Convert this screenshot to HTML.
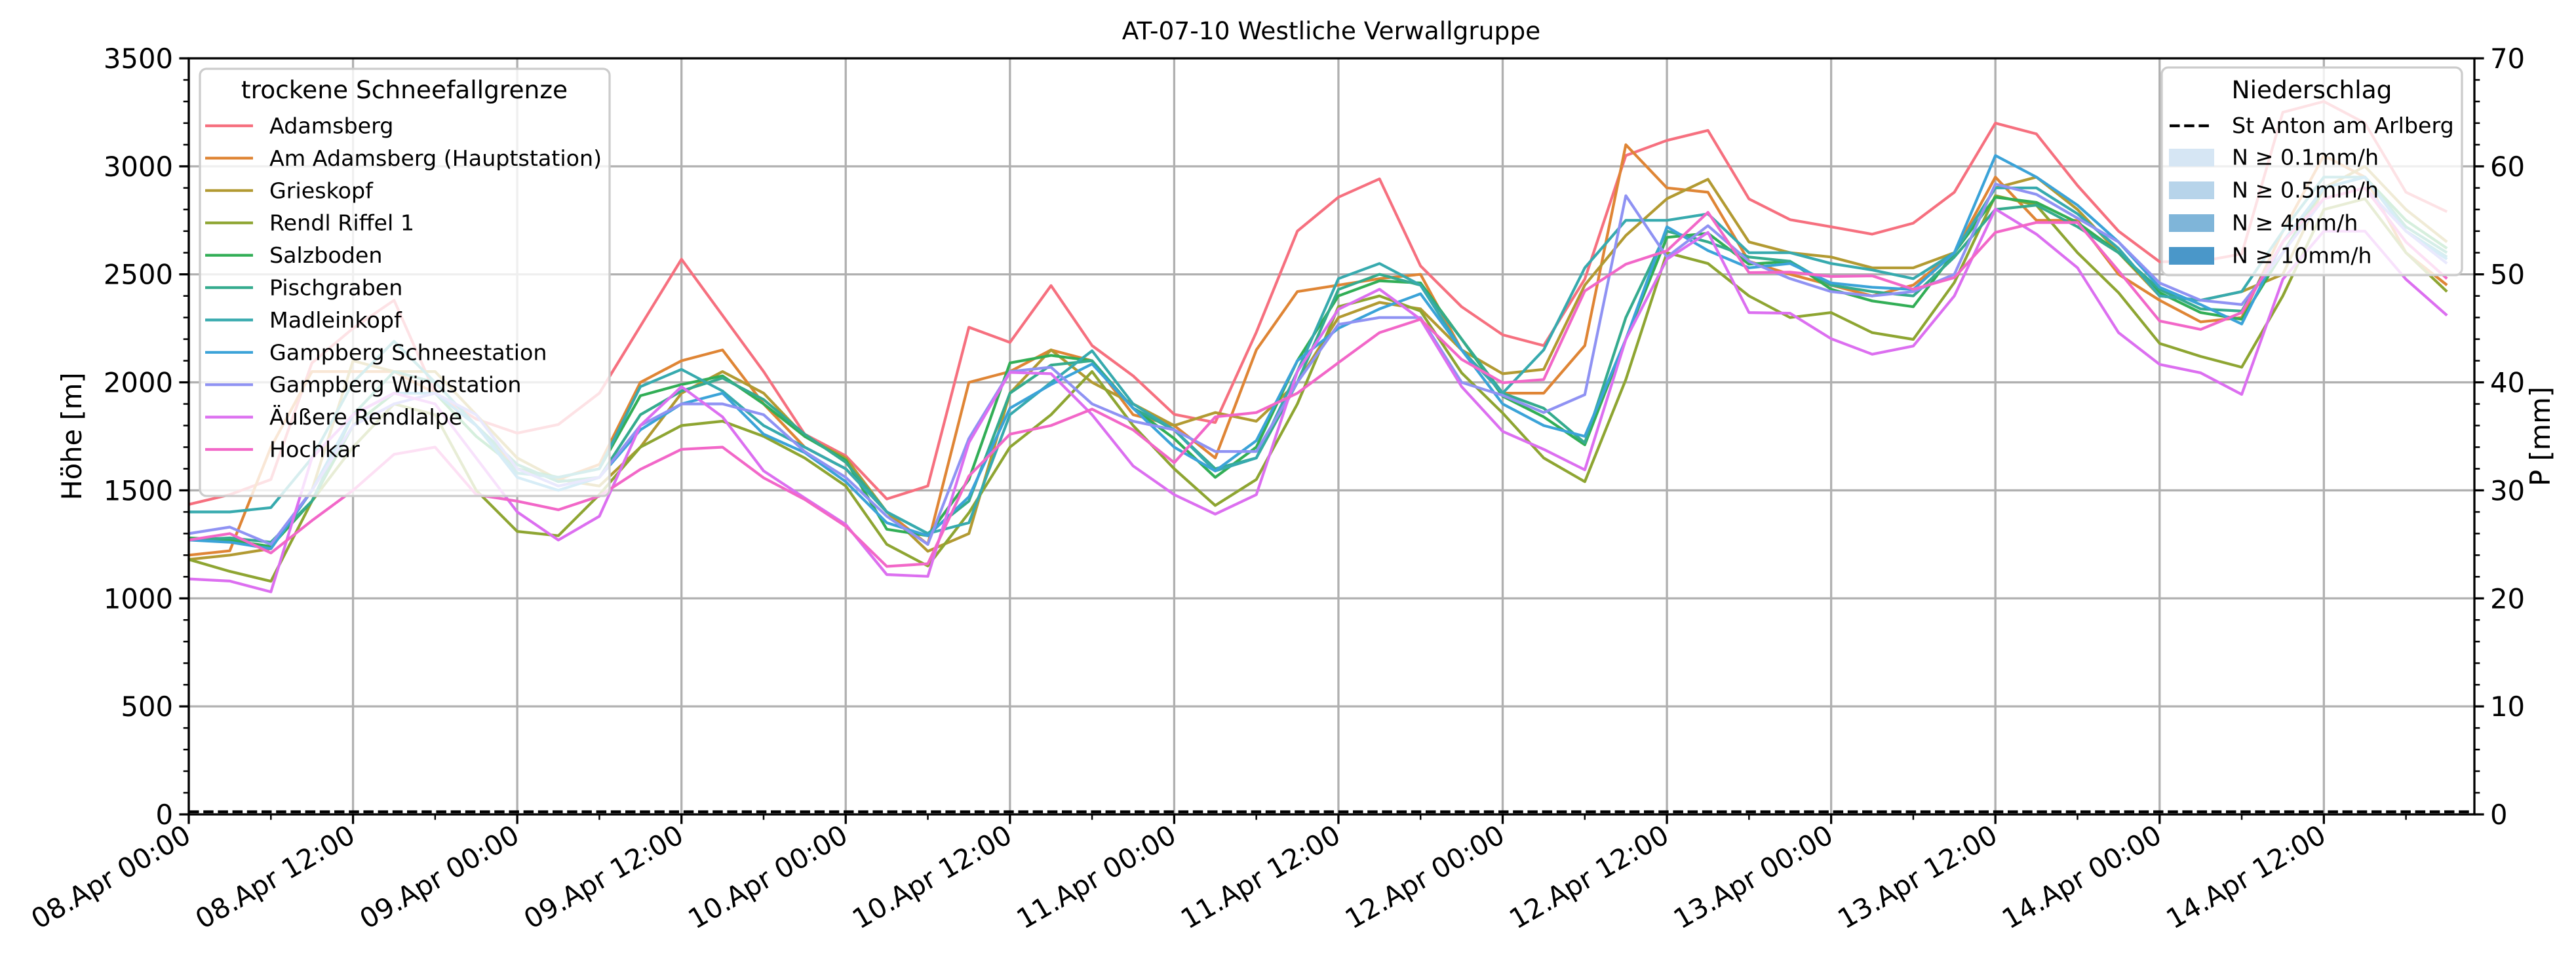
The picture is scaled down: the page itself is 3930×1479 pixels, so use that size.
<!DOCTYPE html>
<html><head><meta charset="utf-8"><style>
html,body{margin:0;padding:0;background:#fff;}
svg text{font-family:"DejaVu Sans","Liberation Sans",sans-serif;fill:#000;}
</style></head><body>
<svg id="chart" xmlns="http://www.w3.org/2000/svg" width="3930" height="1474" viewBox="0 0 3930 1474">
<rect x="0" y="0" width="3930" height="1474" fill="#fff"/>
<text x="2031" y="60" font-size="37.5" text-anchor="middle">AT-07-10 Westliche Verwallgruppe</text>
<g id="grid"></g>
<g id="series"></g>
<g id="axes"></g>
<text transform="translate(124,666) rotate(-90)" font-size="41.7" text-anchor="middle">Höhe [m]</text>
<text transform="translate(3890,666) rotate(-90)" font-size="41.7" text-anchor="middle">P [mm]</text>
<g id="legend1"></g>
<g id="legend2"></g>
</svg>
<script>
const hours = [0,3,6,9,12,15,18,21,24,27,30,33,36,39,42,45,48,51,54,57,60,63,66,69,72,75,78,81,84,87,90,93,96,99,102,105,108,111,114,117,120,123,126,129,132,135,138,141,144,147,150,153,156,159,162,165];
const adamsberg = [1435,1480,1550,2090,2250,2380,1950,1830,1765,1805,1950,2260,2570,2310,2050,1760,1660,1460,1520,2255,2185,2448,2170,2030,1852,1814,2232,2700,2857,2942,2539,2350,2220,2170,2478,3050,3120,3166,2849,2753,2720,2686,2737,2880,3200,3150,2911,2700,2558,2560,2594,3250,3300,3200,2880,2790];
const amAdamsberg = [1200,1220,1700,2050,2050,2050,1950,1800,1600,1550,1620,2000,2100,2150,1900,1700,1600,1400,1250,2000,2050,2150,2100,1850,1800,1650,2150,2420,2450,2480,2500,2150,1950,1950,2170,3100,2900,2880,2560,2500,2450,2400,2450,2600,2950,2750,2750,2500,2380,2280,2300,2700,3050,2950,2600,2450];
const grieskopf = [1180,1200,1230,1500,2100,2050,2050,1850,1650,1550,1520,1700,1950,2050,1950,1750,1650,1400,1218,1300,1950,2150,2000,1900,1800,1860,1820,2000,2300,2370,2340,2150,2040,2060,2450,2680,2850,2940,2650,2600,2580,2530,2530,2600,2900,2950,2800,2600,2400,2380,2420,2500,2900,3000,2800,2650];
const rendlRiffel = [1180,1125,1079,1450,1700,1900,1850,1500,1310,1290,1480,1700,1800,1820,1750,1650,1520,1250,1150,1396,1700,1850,2050,1800,1600,1430,1550,1900,2350,2400,2330,2044,1858,1650,1540,2013,2600,2550,2400,2300,2323,2230,2199,2462,2864,2820,2600,2415,2180,2120,2070,2400,2800,2850,2600,2420];
const salzboden = [1280,1270,1240,1450,1800,1950,1950,1750,1600,1560,1600,1938,1990,2030,1900,1750,1640,1320,1290,1550,2090,2125,2100,1880,1740,1560,1700,2100,2400,2470,2460,2200,1936,1840,1711,2200,2671,2690,2547,2560,2431,2377,2350,2600,2857,2833,2740,2601,2415,2323,2292,2600,2900,2950,2750,2620];
const pischgraben = [1270,1280,1260,1450,1850,2050,2000,1800,1620,1540,1560,1850,1960,2020,1920,1760,1630,1400,1300,1450,1950,2080,2100,1880,1780,1600,1650,2000,2430,2500,2450,2200,1950,1880,1720,2300,2700,2650,2580,2560,2450,2420,2400,2580,2800,2820,2720,2600,2430,2340,2330,2650,2900,2950,2720,2600];
const madleinkopf = [1400,1400,1420,1650,2000,2190,2000,1800,1580,1560,1600,1980,2060,1960,1800,1700,1600,1400,1300,1350,1850,2000,2146,1900,1780,1590,1650,2050,2480,2550,2450,2150,1950,2150,2530,2750,2750,2780,2600,2600,2550,2520,2480,2600,2900,2900,2780,2620,2400,2380,2420,2700,2950,2950,2700,2580];
const gampbergSchnee = [1270,1260,1230,1500,1850,1950,1950,1800,1560,1500,1560,1780,1900,1950,1760,1675,1540,1350,1290,1470,1880,1990,2085,1880,1700,1590,1730,2100,2250,2340,2410,2150,1900,1800,1750,2199,2720,2610,2530,2550,2460,2440,2430,2600,3050,2950,2820,2650,2440,2360,2270,2650,2900,2950,2700,2570];
const gampbergWind = [1300,1330,1250,1500,1800,1900,1950,1850,1600,1520,1560,1800,1900,1900,1850,1680,1560,1380,1250,1740,2050,2070,1900,1820,1780,1680,1680,2000,2268,2300,2300,2000,1940,1860,1943,2864,2580,2725,2560,2480,2420,2400,2420,2500,2918,2870,2760,2650,2460,2380,2360,2600,2850,2900,2700,2550];
const aeussereRendlalpe = [1090,1080,1030,1650,1850,1950,1900,1650,1400,1270,1380,1800,1980,1840,1590,1465,1342,1110,1102,1721,2046,2040,1850,1613,1480,1390,1480,2050,2338,2431,2292,1980,1773,1690,1595,2199,2570,2694,2323,2320,2202,2130,2168,2400,2802,2686,2530,2230,2083,2044,1944,2477,2700,2700,2477,2310];
const hochkar = [1270,1300,1210,1360,1500,1667,1700,1480,1450,1410,1473,1597,1690,1700,1558,1458,1334,1148,1160,1566,1760,1800,1876,1780,1628,1840,1860,1950,2091,2230,2292,2106,1998,2013,2423,2547,2609,2787,2508,2510,2490,2493,2431,2485,2694,2740,2740,2516,2284,2245,2323,2650,2850,2900,2650,2480];
const precipStAnton = [0,0,0,0,0,0,0,0,0,0,0,0,0,0,0,0,0,0,0,0,0,0,0,0,0,0,0,0,0,0,0,0,0,0,0,0,0,0,0,0,0,0,0,0,0,0,0,0,0,0,0,0,0,0,0,0];
const seriesNames = ["Adamsberg","Am Adamsberg (Hauptstation)","Grieskopf","Rendl Riffel 1","Salzboden","Pischgraben","Madleinkopf","Gampberg Schneestation","Gampberg Windstation","Äußere Rendlalpe","Hochkar"];
const seriesColors = ["#f6707f","#df8535","#b29a32","#8ea532","#32ae56","#35ab8e","#37aaae","#3ba3d8","#8f92f3","#dc6ff0","#f267c8"];
const xTickLabels = ["08.Apr 00:00","08.Apr 12:00","09.Apr 00:00","09.Apr 12:00","10.Apr 00:00","10.Apr 12:00","11.Apr 00:00","11.Apr 12:00","12.Apr 00:00","12.Apr 12:00","13.Apr 00:00","13.Apr 12:00","14.Apr 00:00","14.Apr 12:00"];
const yTicks = [0,500,1000,1500,2000,2500,3000,3500];
const y2Ticks = [0,10,20,30,40,50,60,70];
const precipLegend = ["N ≥ 0.1mm/h","N ≥ 0.5mm/h","N ≥ 4mm/h","N ≥ 10mm/h"];
const precipColors = ["#d6e6f4","#b7d4ea","#7fb5d9","#4a97c9"];

const allSeries = [adamsberg,amAdamsberg,grieskopf,rendlRiffel,salzboden,pischgraben,madleinkopf,gampbergSchnee,gampbergWind,aeussereRendlalpe,hochkar];
const L=288,R=3775,T=89,B=1243;
const xS=h=>L+h*(R-L)/167;
const yS=v=>B-v*(B-T)/3500;
const y2S=v=>B-v*(B-T)/70;
const NS="http://www.w3.org/2000/svg";
function mk(tag,attrs,parent){const e=document.createElementNS(NS,tag);for(const k in attrs)e.setAttribute(k,attrs[k]);parent.appendChild(e);return e;}
const grid=document.getElementById('grid'),ser=document.getElementById('series'),axes=document.getElementById('axes');
// grid
for(let i=0;i<xTickLabels.length;i++){const x=xS(i*12);
 const g=mk('line',{x1:x,x2:x,y1:T,y2:B,stroke:'#b0b0b0','stroke-width':3.3},grid);
 
 }
for(const v of yTicks){const y=yS(v);
 const g=mk('line',{x1:L,x2:R,y1:y,y2:y,stroke:'#b0b0b0','stroke-width':3.3},grid);
 
 }
// clip
const defs=mk('defs',{},document.getElementById('chart'));
const cp=mk('clipPath',{id:'clip'},defs);mk('rect',{x:L,y:T,width:R-L,height:B-T},cp);
ser.setAttribute('clip-path','url(#clip)');
allSeries.forEach((arr,si)=>{
 const d=arr.map((v,i)=>(i?'L':'M')+xS(hours[i]).toFixed(1)+' '+yS(v).toFixed(1)).join(' ');
 const p=mk('path',{d:d,fill:'none',stroke:seriesColors[si],'stroke-width':4.2,'stroke-linejoin':'round'},ser);
 
 
});
{const d=precipStAnton.map((v,i)=>(i?'L':'M')+xS(hours[i]).toFixed(1)+' '+(y2S(v)-4).toFixed(1)).join(' ')+' L'+R+' '+(y2S(0)-4);
 const p=mk('path',{d:d,fill:'none',stroke:'#000','stroke-width':4.2,'stroke-dasharray':'15.5 6.7'},ser);
 
 }
// spines
const sp=mk('rect',{x:L,y:T,width:R-L,height:B-T,fill:'none',stroke:'#000','stroke-width':3.3},axes);


// x ticks
for(let h=0;h<=167;h+=6){const x=xS(h),maj=h%12===0;mk('line',{x1:x,x2:x,y1:B,y2:B+(maj?14.6:8.3),stroke:'#000','stroke-width':maj?3.3:2.5},axes);}
xTickLabels.forEach((s,i)=>{const x=xS(i*12);
 const t=mk('text',{transform:`translate(${x+6},${B+40}) rotate(-30)`,'font-size':41.7,'text-anchor':'end'},axes);t.textContent=s;
 
 });
// y ticks
for(let v=0;v<=3500;v+=100){const y=yS(v),maj=v%500===0;mk('line',{x1:L,x2:L-(maj?14.6:8.3),y1:y,y2:y,stroke:'#000','stroke-width':maj?3.3:2.5},axes);}
yTicks.forEach(v=>{const t=mk('text',{x:L-24,y:yS(v)+15,'font-size':41.7,'text-anchor':'end'},axes);t.textContent=v;
 
 });
for(let v=0;v<=70;v+=2){const y=y2S(v),maj=v%10===0;mk('line',{x1:R,x2:R+(maj?14.6:8.3),y1:y,y2:y,stroke:'#000','stroke-width':maj?3.3:2.5},axes);}
y2Ticks.forEach(v=>{const t=mk('text',{x:R+24,y:y2S(v)+15,'font-size':41.7,'text-anchor':'start'},axes);t.textContent=v;
 
 });
// legend 1
const lg1=document.getElementById('legend1');
mk('rect',{x:305,y:105,width:625,height:652,rx:10,fill:'#fff','fill-opacity':0.8,stroke:'#cccccc','stroke-width':3.3},lg1);
{const t=mk('text',{x:617,y:150,'font-size':37.5,'text-anchor':'middle'},lg1);t.textContent='trockene Schneefallgrenze';
 
 }
seriesNames.forEach((n,i)=>{const y=192+i*49.4;
 const g=mk('g',{},lg1);
 
 
 mk('line',{x1:313,x2:386,y1:y,y2:y,stroke:seriesColors[i],'stroke-width':4.2},g);
 const t=mk('text',{x:411,y:y+11.5,'font-size':33.3},g);t.textContent=n;});
// legend 2
const lg2=document.getElementById('legend2');
mk('rect',{x:3298,y:103,width:458,height:317,rx:10,fill:'#fff','fill-opacity':0.8,stroke:'#cccccc','stroke-width':3.3},lg2);
{const t=mk('text',{x:3527,y:150,'font-size':37.5,'text-anchor':'middle'},lg2);t.textContent='Niederschlag';
 
 }
{const g=mk('g',{},lg2);
 
 
 mk('line',{x1:3310,x2:3370,y1:192,y2:192,stroke:'#000','stroke-width':4.2,'stroke-dasharray':'15.5 6.7'},g);
 const t=mk('text',{x:3405,y:203,'font-size':33.3},g);t.textContent='St Anton am Arlberg';}
precipLegend.forEach((n,i)=>{const y=240+i*50;
 const g=mk('g',{},lg2);
 
 
 mk('rect',{x:3309,y:y-13,width:69,height:27,fill:precipColors[i]},g);
 const t=mk('text',{x:3405,y:y+11.5,'font-size':33.3},g);t.textContent=n;});
</script>
</body></html>
